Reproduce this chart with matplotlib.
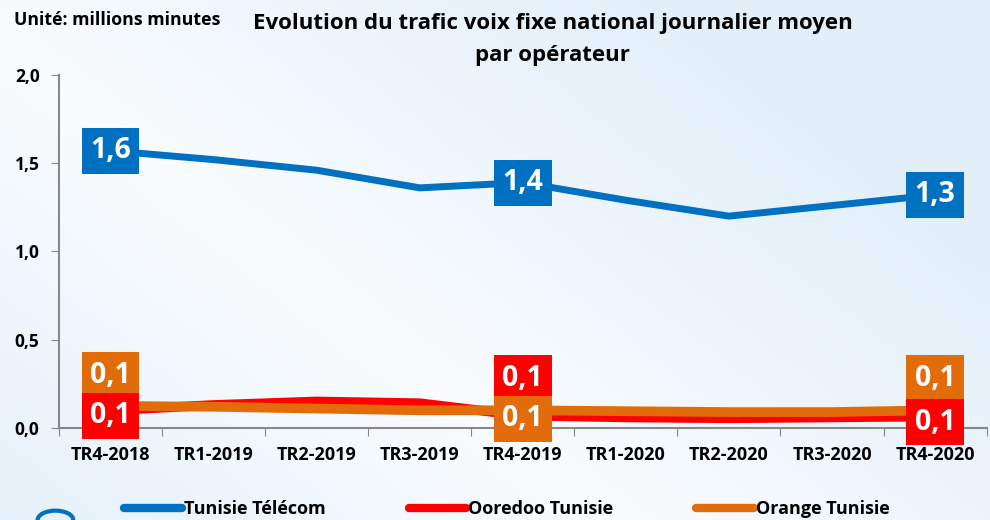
import matplotlib
matplotlib.use("Agg")
import matplotlib.pyplot as plt
import numpy as np
from matplotlib.patches import Circle

plt.rcParams.update({
    'font.family': ['Open Sans', 'DejaVu Sans'],
    'font.weight': 'bold',
})

# Data
quarters = ['TR4-2018', 'TR1-2019', 'TR2-2019', 'TR3-2019', 'TR4-2019',
            'TR1-2020', 'TR2-2020', 'TR3-2020', 'TR4-2020']
tunisie_telecom = [1.57, 1.52, 1.46, 1.36, 1.39, 1.29, 1.20, 1.26, 1.32]
ooredoo = [0.10, 0.13, 0.15, 0.14, 0.07, 0.06, 0.055, 0.06, 0.065]
orange = [0.125, 0.12, 0.11, 0.10, 0.10, 0.095, 0.09, 0.09, 0.10]
label_idx = [0, 4, 8]

c_tt = '#0070C0'
c_oo = '#FF0000'
c_or = '#E36C0A'

fig = plt.figure(figsize=(9.9, 5.2), dpi=100)

# soft blue background gradient
bg = fig.add_axes([0, 0, 1, 1], zorder=-10)
xx, yy = np.meshgrid(np.linspace(0, 1, 200), np.linspace(0, 1, 120))
g = np.clip(1 - np.abs((xx * 0.9 + yy * 0.6) - 0.55) * 1.6, 0, 1)
img = np.zeros((120, 200, 3))
base = np.array([0.89, 0.94, 0.98])
img[:] = base + (1 - base) * g[..., None] * 0.8
bg.imshow(img, aspect='auto', extent=[0, 1, 0, 1], origin='lower')
bg.axis('off')

ax = fig.add_axes([0.0596, 0.177, 0.937, 0.679])
ax.patch.set_alpha(0)
x = np.arange(len(quarters))

ax.plot(x, tunisie_telecom, color=c_tt, lw=5, solid_capstyle='round',
        label='Tunisie Télécom', zorder=3)
ax.plot(x, ooredoo, color=c_oo, lw=7, solid_capstyle='round',
        label='Ooredoo Tunisie', zorder=3)
ax.plot(x, orange, color=c_or, lw=7, solid_capstyle='round',
        label='Orange Tunisie', zorder=4)

def box(xi, yi, text, color, dy=0):
    ax.annotate(text, (xi, yi), xytext=(0, dy), textcoords='offset points',
                ha='center', va='center', fontsize=20.5, color='white',
                fontweight='bold', zorder=6,
                bbox=dict(boxstyle='square,pad=0.3', fc=color, ec='none'))

for i in label_idx:
    box(i, tunisie_telecom[i], f'{tunisie_telecom[i]:.1f}'.replace('.', ','), c_tt)

# low series labels: stacked boxes
box(0, orange[0], '0,1', c_or, dy=22)
box(0, ooredoo[0], '0,1', c_oo, dy=-4)
box(4, ooredoo[4], '0,1', c_oo, dy=27)
box(4, orange[4], '0,1', c_or, dy=-6)
box(8, orange[8], '0,1', c_or, dy=23)
box(8, ooredoo[8], '0,1', c_oo, dy=-4)

ax.set_xlim(-0.5, len(quarters) - 0.5)
ax.set_ylim(0, 2.0)
ax.set_yticks(np.arange(0, 2.01, 0.5))
ax.set_yticklabels([f'{v:.1f}'.replace('.', ',') for v in np.arange(0, 2.01, 0.5)],
                   fontsize=12.5, fontweight='bold')
ax.set_xticks(np.arange(-0.5, len(quarters), 1))
ax.set_xticklabels([])
ax.set_xticks(x, minor=True)
ax.set_xticklabels(quarters, minor=True, fontsize=13, fontweight='bold')
ax.tick_params(axis='x', which='major', length=6, color='#888888', direction='out')
ax.tick_params(axis='x', which='minor', length=0, pad=13)
ax.tick_params(axis='y', length=6, color='#888888', pad=8)

for s in ['top', 'right']:
    ax.spines[s].set_visible(False)
for s in ['left', 'bottom']:
    ax.spines[s].set_color('#888888')
    ax.spines[s].set_linewidth(1.5)

fig.text(0.558, 0.955, 'Evolution du trafic voix fixe national journalier moyen',
         ha='center', va='center', fontsize=16, fontweight='bold')
fig.text(0.558, 0.893, 'par opérateur', ha='center', va='center',
         fontsize=16, fontweight='bold')
fig.text(0.014, 0.962, 'Unité: millions minutes', ha='left', va='center',
         fontsize=12.8, fontweight='bold')

leg = ax.legend(loc='center', bbox_to_anchor=(0.483, -0.23), ncol=3, frameon=False,
                fontsize=13, handlelength=3.2, handletextpad=0.1,
                columnspacing=4.6)
for line in leg.get_lines():
    line.set_linewidth(6)
    line.set_solid_capstyle('round')

fig.patches.append(Circle((0.056, 0.0), 0.018, transform=fig.transFigure,
                          fill=False, ec='#0070C0', lw=3))

fig.savefig('out.png', dpi=100)
